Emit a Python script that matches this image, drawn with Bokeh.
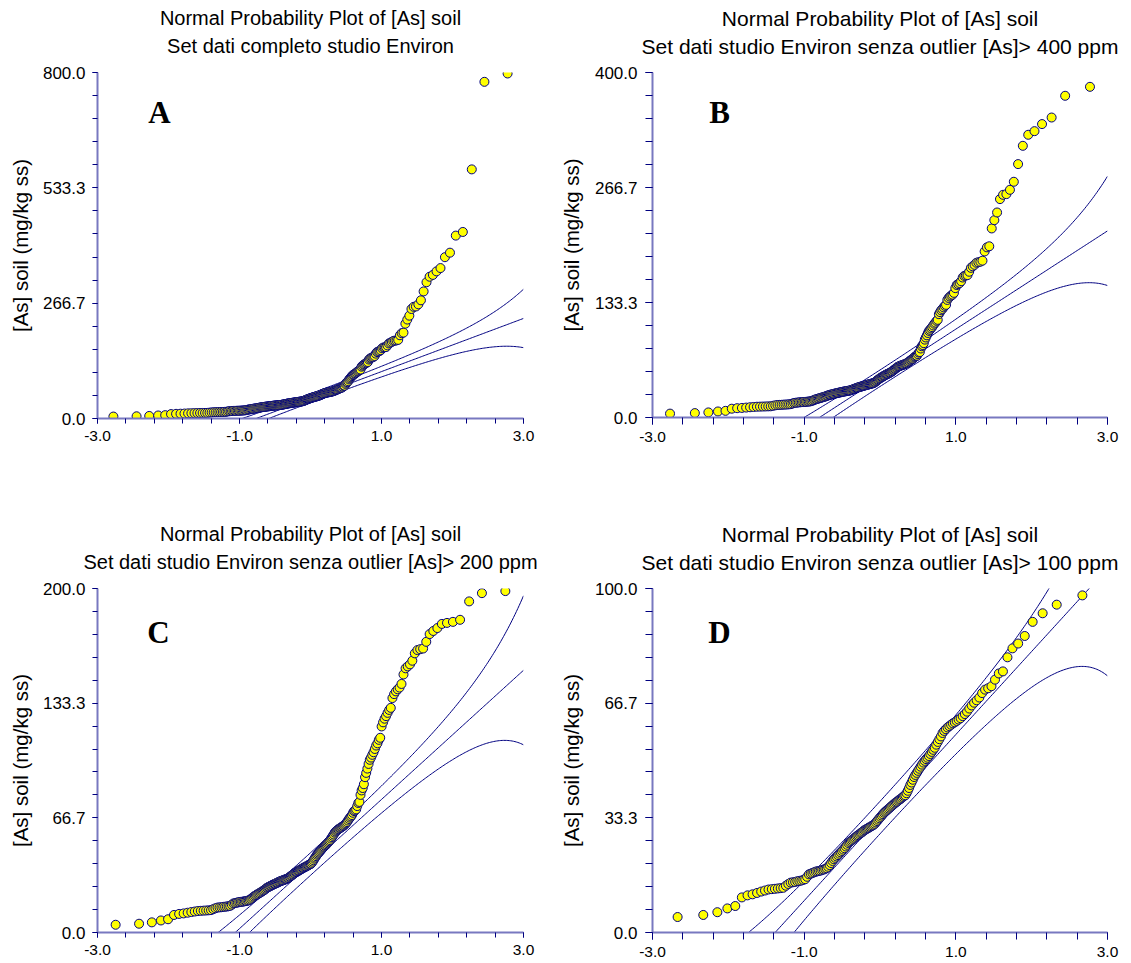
import numpy as np
from statistics import NormalDist
from bokeh.plotting import figure
from bokeh.models import FixedTicker, PrintfTickFormatter, Label, Range1d, Title
from bokeh.layouts import row, column
from bokeh.embed import file_html
from bokeh.resources import INLINE

# ---------------- data (sorted [As] soil values, mg/kg ss) ----------------
as_soil_le100 = [
    4.5, 5.1, 5.9, 7.0, 7.7, 10.2, 10.8, 11.1, 11.5, 11.9,
    12.2, 12.5, 12.6, 12.7, 12.8, 12.9, 13.0, 13.6, 14.1, 14.5,
    14.6, 14.7, 14.9, 15.0, 15.1, 15.3, 15.5, 16.2, 16.9, 17.1,
    17.3, 17.5, 17.7, 17.8, 17.9, 18.0, 18.2, 18.3, 18.5, 18.7,
    19.1, 19.6, 20.2, 20.8, 21.3, 21.7, 22.1, 22.5, 22.9, 23.3,
    23.7, 24.1, 24.5, 25.0, 25.5, 26.0, 26.3, 26.6, 26.9, 27.2,
    27.5, 27.8, 28.1, 28.3, 28.6, 28.9, 29.1, 29.4, 29.7, 29.9,
    30.1, 30.3, 30.5, 30.7, 30.9, 31.1, 31.3, 31.6, 32.0, 32.4,
    32.8, 33.2, 33.6, 34.0, 34.4, 34.8, 35.1, 35.4, 35.7, 36.0,
    36.3, 36.6, 36.9, 37.2, 37.5, 37.8, 38.0, 38.3, 38.6, 38.8,
    39.1, 39.4, 39.7, 39.9, 40.5, 41.2, 42.0, 42.9, 43.6, 44.4,
    45.2, 45.8, 46.4, 47.0, 47.6, 48.2, 48.8, 49.4, 49.9, 50.4,
    50.8, 51.3, 51.9, 52.5, 53.1, 53.7, 54.6, 55.4, 56.2, 57.0,
    58.0, 58.6, 59.1, 59.6, 60.0, 60.4, 60.8, 61.1, 61.5, 61.9,
    62.3, 62.9, 63.5, 64.2, 65.1, 66.0, 66.8, 67.5, 68.3, 69.6,
    70.6, 71.0, 71.6, 73.5, 75.3, 75.9, 80.0, 82.6, 84.0, 86.2,
    90.3, 92.8, 95.3, 98.0,
]
as_soil_100_200 = [
    100.4, 101.7, 103.3, 104.8, 106.7, 108.7, 110.0, 112.0, 113.2, 119.8,
    122.2, 124.3, 125.8, 127.7, 129.4, 130.6, 136.3, 138.6, 140.2, 141.4,
    142.4, 144.5, 150.0, 153.6, 154.7, 155.9, 158.0, 162.3, 164.2, 164.7,
    165.1, 169.0, 173.5, 175.3, 177.0, 179.4, 180.0, 180.6, 181.8, 192.5,
    197.3, 198.5,
]
as_soil_200_400 = [
    219.2, 228.8, 237.7, 253.2, 258.2, 259.0, 264.0, 273.3,
    293.8, 315.0, 327.8, 332.0, 340.2, 347.8, 373.0, 383.4,
]
as_soil_gt400 = [422.9, 431.3, 576.0, 778.4, 797.7]

panel_letters = ["A", "B", "C", "D"]
title_line1 = "Normal Probability Plot of [As] soil"
title_line2 = [
    "Set dati completo studio Environ",
    "Set dati studio Environ senza outlier [As]> 400 ppm",
    "Set dati studio Environ senza outlier [As]> 200 ppm",
    "Set dati studio Environ senza outlier [As]> 100 ppm",
]
panel_ymax = [800.0, 400.0, 200.0, 100.0]
x_tick_labels = [-3.0, -1.0, 1.0, 3.0]
y_axis_label = "[As] soil (mg/kg ss)"

panel_values = [
    as_soil_le100 + as_soil_100_200 + as_soil_200_400 + as_soil_gt400,
    as_soil_le100 + as_soil_100_200 + as_soil_200_400,
    as_soil_le100 + as_soil_100_200,
    as_soil_le100,
]

# ---------------- styling / layout ----------------
FONT = "Liberation Sans"
AXIS_COL = "#7878c0"
NAVY = "#000080"
ND = NormalDist()
IQR_TO_SD = 2 * ND.inv_cdf(0.75)

layouts = [
    dict(fw=426, fh=346, bl=97, br=30, bt=71, bb=50, to=5, ys=7, als=8,
         ts="20px", s2=9, sp="7.5px", lx=62, ly=306),
    dict(fw=455, fh=345, bl=99, br=23, bt=72, bb=50, to=7, ys=8, als=9,
         ts="21px", s2=7, sp="7.5px", lx=67, ly=305),
    dict(fw=426, fh=344, bl=97, br=30, bt=121, bb=30, to=5, ys=7, als=8,
         ts="20px", s2=9, sp="7.5px", lx=61, ly=300),
    dict(fw=455, fh=344, bl=99, br=23, bt=121, bb=30, to=7, ys=8, als=9,
         ts="21px", s2=7, sp="7.5px", lx=67, ly=300),
]


def normal_scores(n):
    return [ND.inv_cdf((i - 0.375) / (n + 0.25)) for i in range(1, n + 1)]


def make_panel(k):
    L = layouts[k]
    vals = sorted(panel_values[k])
    n = len(vals)
    zs = normal_scores(n)
    ymax = panel_ymax[k]

    q1, med, q3 = np.percentile(vals, [25, 50, 75])
    sd = (q3 - q1) / IQR_TO_SD
    zz = np.linspace(-3, 3, 301)
    pp = np.array([ND.cdf(v) for v in zz])
    dens = np.array([ND.pdf(v) for v in zz])
    fit = med + sd * zz
    half = 2.0 * sd * np.sqrt(pp * (1 - pp) / n) / dens

    p = figure(frame_width=L["fw"], frame_height=L["fh"],
               min_border_left=L["bl"], min_border_right=L["br"],
               min_border_top=L["bt"], min_border_bottom=L["bb"],
               x_range=Range1d(-3, 3), y_range=Range1d(0, ymax),
               output_backend="svg", toolbar_location=None, tools="")
    p.outline_line_color = None
    p.grid.visible = False
    p.background_fill_color = "white"
    p.border_fill_color = "white"

    for curve in (fit + half, fit, fit - half):
        p.line(zz, curve, line_color=NAVY, line_width=1)

    p.scatter(zs, vals, size=9, fill_color="#FFFF00", line_color=NAVY, line_width=1)

    xa = p.xaxis[0]
    xa.ticker = FixedTicker(ticks=x_tick_labels, minor_ticks=[round(-3 + 0.4 * i, 2) for i in range(16)])
    xa.formatter = PrintfTickFormatter(format="%.1f")
    ya = p.yaxis[0]
    ya.ticker = FixedTicker(ticks=[ymax * i / 3 for i in range(4)],
                            minor_ticks=[ymax * i / 15 for i in range(16)])
    ya.formatter = PrintfTickFormatter(format="%.1f")
    for ax in (xa, ya):
        ax.axis_line_color = AXIS_COL
        ax.axis_line_width = 2
        ax.major_tick_line_color = NAVY
        ax.minor_tick_line_color = NAVY
        ax.major_tick_in = 0
        ax.minor_tick_in = 0
        ax.major_tick_out = L["to"]
        ax.minor_tick_out = L["to"]
        ax.major_label_text_font = FONT
        ax.major_label_text_color = "black"
    xa.major_label_text_font_size = "15.5px"
    xa.major_label_standoff = 7
    ya.major_label_text_font_size = "17px"
    ya.major_label_standoff = L["ys"]
    ya.axis_label = y_axis_label
    ya.axis_label_text_font = FONT
    ya.axis_label_text_font_size = "20.5px"
    ya.axis_label_text_font_style = "normal"
    ya.axis_label_text_color = "black"
    ya.axis_label_standoff = L["als"]

    # titles: a thin spacer next to the frame, then line 2, then line 1 (outermost)
    p.add_layout(Title(text=" ", text_font_size=L["sp"], standoff=0), "above")
    p.add_layout(Title(text=title_line2[k], align="center",
                       text_font=FONT, text_font_size=L["ts"], text_font_style="normal",
                       text_color="black", standoff=L["s2"]), "above")
    p.add_layout(Title(text=title_line1, align="center",
                       text_font=FONT, text_font_size=L["ts"], text_font_style="normal",
                       text_color="black", standoff=0), "above")

    p.add_layout(Label(x=L["lx"], y=L["ly"], x_units="screen", y_units="screen",
                       text=panel_letters[k], text_align="center", text_baseline="alphabetic",
                       text_font="Liberation Serif", text_font_style="bold",
                       text_font_size="31px", text_color="black"))
    return p


panels = [make_panel(k) for k in range(4)]
layout = column(row(panels[0], panels[1]), row(panels[2], panels[3]))

open("out.html", "w").write(file_html(layout, INLINE))
